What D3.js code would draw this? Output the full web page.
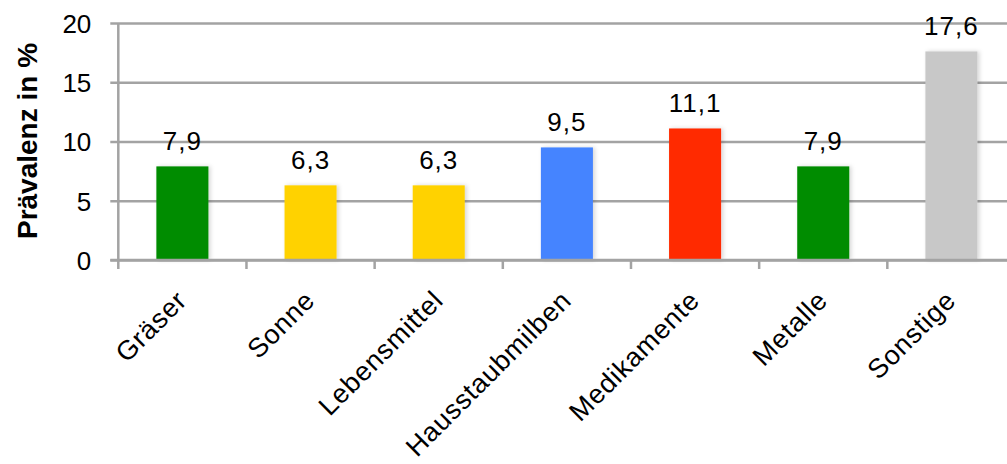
<!DOCTYPE html>
<html>
<head>
<meta charset="utf-8">
<script src="https://cdn.jsdelivr.net/npm/d3@7"></script>
<style>
  html, body { margin: 0; padding: 0; background: #fff; }
  svg { display: block; font-family: "Liberation Sans", Arial, sans-serif; }
</style>
</head>
<body>
<svg id="chart" width="1007" height="464"></svg>
<script>
// Prävalenz je Auslöser (in %)
const categories = ["Gräser", "Sonne", "Lebensmittel", "Hausstaubmilben", "Medikamente", "Metalle", "Sonstige"];
const values = [7.9, 6.3, 6.3, 9.5, 11.1, 7.9, 17.6];
const barColors = ["#008c00", "#ffd200", "#ffd200", "#4584ff", "#ff2a00", "#008c00", "#c8c8c8"];
const yTicks = [0, 5, 10, 15, 20];
const yTitle = "Prävalenz in %";

const svg = d3.select("#chart");
const W = 1007;

const plot = { left: 118.3, right: 1015.5, top: 23, bottom: 260 };

const x = d3.scaleBand()
  .domain(categories)
  .range([plot.left, plot.right])
  .paddingInner(0.594)
  .paddingOuter(0.297);

const y = d3.scaleLinear()
  .domain([0, 20])
  .range([plot.bottom, plot.top]);

const gridColor = "#a3a3a3";
const gridWidth = 2.5;

// soft shadow on the right side of the bars
const defs = svg.append("defs");
const f = defs.append("filter").attr("id", "shadow")
  .attr("x", "-10%").attr("y", "-10%").attr("width", "130%").attr("height", "120%");
f.append("feDropShadow")
  .attr("dx", 2).attr("dy", 0).attr("stdDeviation", 2)
  .attr("flood-color", "#000").attr("flood-opacity", 0.16);

// horizontal gridlines + y axis ticks
const yAxis = d3.axisLeft(y)
  .tickValues(yTicks)
  .tickSize(-(W - plot.left))
  .tickPadding(0)
  .tickFormat(d => d);

const gy = svg.append("g")
  .attr("transform", `translate(${plot.left},0)`)
  .call(yAxis);
gy.select(".domain").remove();
gy.selectAll(".tick line")
  .attr("x1", -8)
  .attr("stroke", gridColor)
  .attr("stroke-width", gridWidth);
gy.selectAll(".tick text")
  .attr("x", -27)
  .attr("dy", "0.36em")
  .attr("fill", "#000")
  .style("font-size", "26px")
  .style("font-family", "Liberation Sans, Arial, sans-serif");

// vertical axis line
svg.append("line")
  .attr("x1", plot.left).attr("x2", plot.left)
  .attr("y1", y(20)).attr("y2", y(0))
  .attr("stroke", gridColor).attr("stroke-width", gridWidth);

// bars
svg.append("g").selectAll("rect")
  .data(values)
  .join("rect")
  .attr("x", (d, i) => x(categories[i]))
  .attr("width", x.bandwidth())
  .attr("y", d => y(d))
  .attr("height", d => y(0) - y(d))
  .attr("fill", (d, i) => barColors[i])
  .attr("filter", "url(#shadow)");

// x axis with tick marks at category boundaries
const step = x.step();
const boundaries = d3.range(categories.length + 1).map(i => plot.left + i * step);
svg.append("line")
  .attr("x1", plot.left - 8).attr("x2", W)
  .attr("y1", y(0)).attr("y2", y(0))
  .attr("stroke", gridColor).attr("stroke-width", gridWidth);
svg.append("g").selectAll("line")
  .data(boundaries)
  .join("line")
  .attr("x1", d => d).attr("x2", d => d)
  .attr("y1", y(0)).attr("y2", y(0) + 9)
  .attr("stroke", gridColor).attr("stroke-width", gridWidth);

// value labels
svg.append("g").selectAll("text")
  .data(values)
  .join("text")
  .attr("x", (d, i) => x(categories[i]) + x.bandwidth() / 2)
  .attr("y", d => y(d) - 16)
  .attr("text-anchor", "middle")
  .style("font-size", "26px")
  .style("letter-spacing", "1px")
  .attr("fill", "#000")
  .text(d => d3.format(".1f")(d).replace(".", ","));

// category labels, rotated
svg.append("g").selectAll("text")
  .data(categories)
  .join("text")
  .attr("text-anchor", "end")
  .attr("transform", d => `translate(${x(d) + x.bandwidth() / 2 + 6},${302}) rotate(-45)`)
  .style("font-size", "27px")
  .style("letter-spacing", "0.8px")
  .attr("fill", "#000")
  .text(d => d);

// y axis title
svg.append("text")
  .attr("transform", `translate(37,141) rotate(-90)`)
  .attr("text-anchor", "middle")
  .style("font-size", "28px")
  .style("font-weight", "bold")
  .attr("fill", "#000")
  .text(yTitle);
</script>
</body>
</html>
